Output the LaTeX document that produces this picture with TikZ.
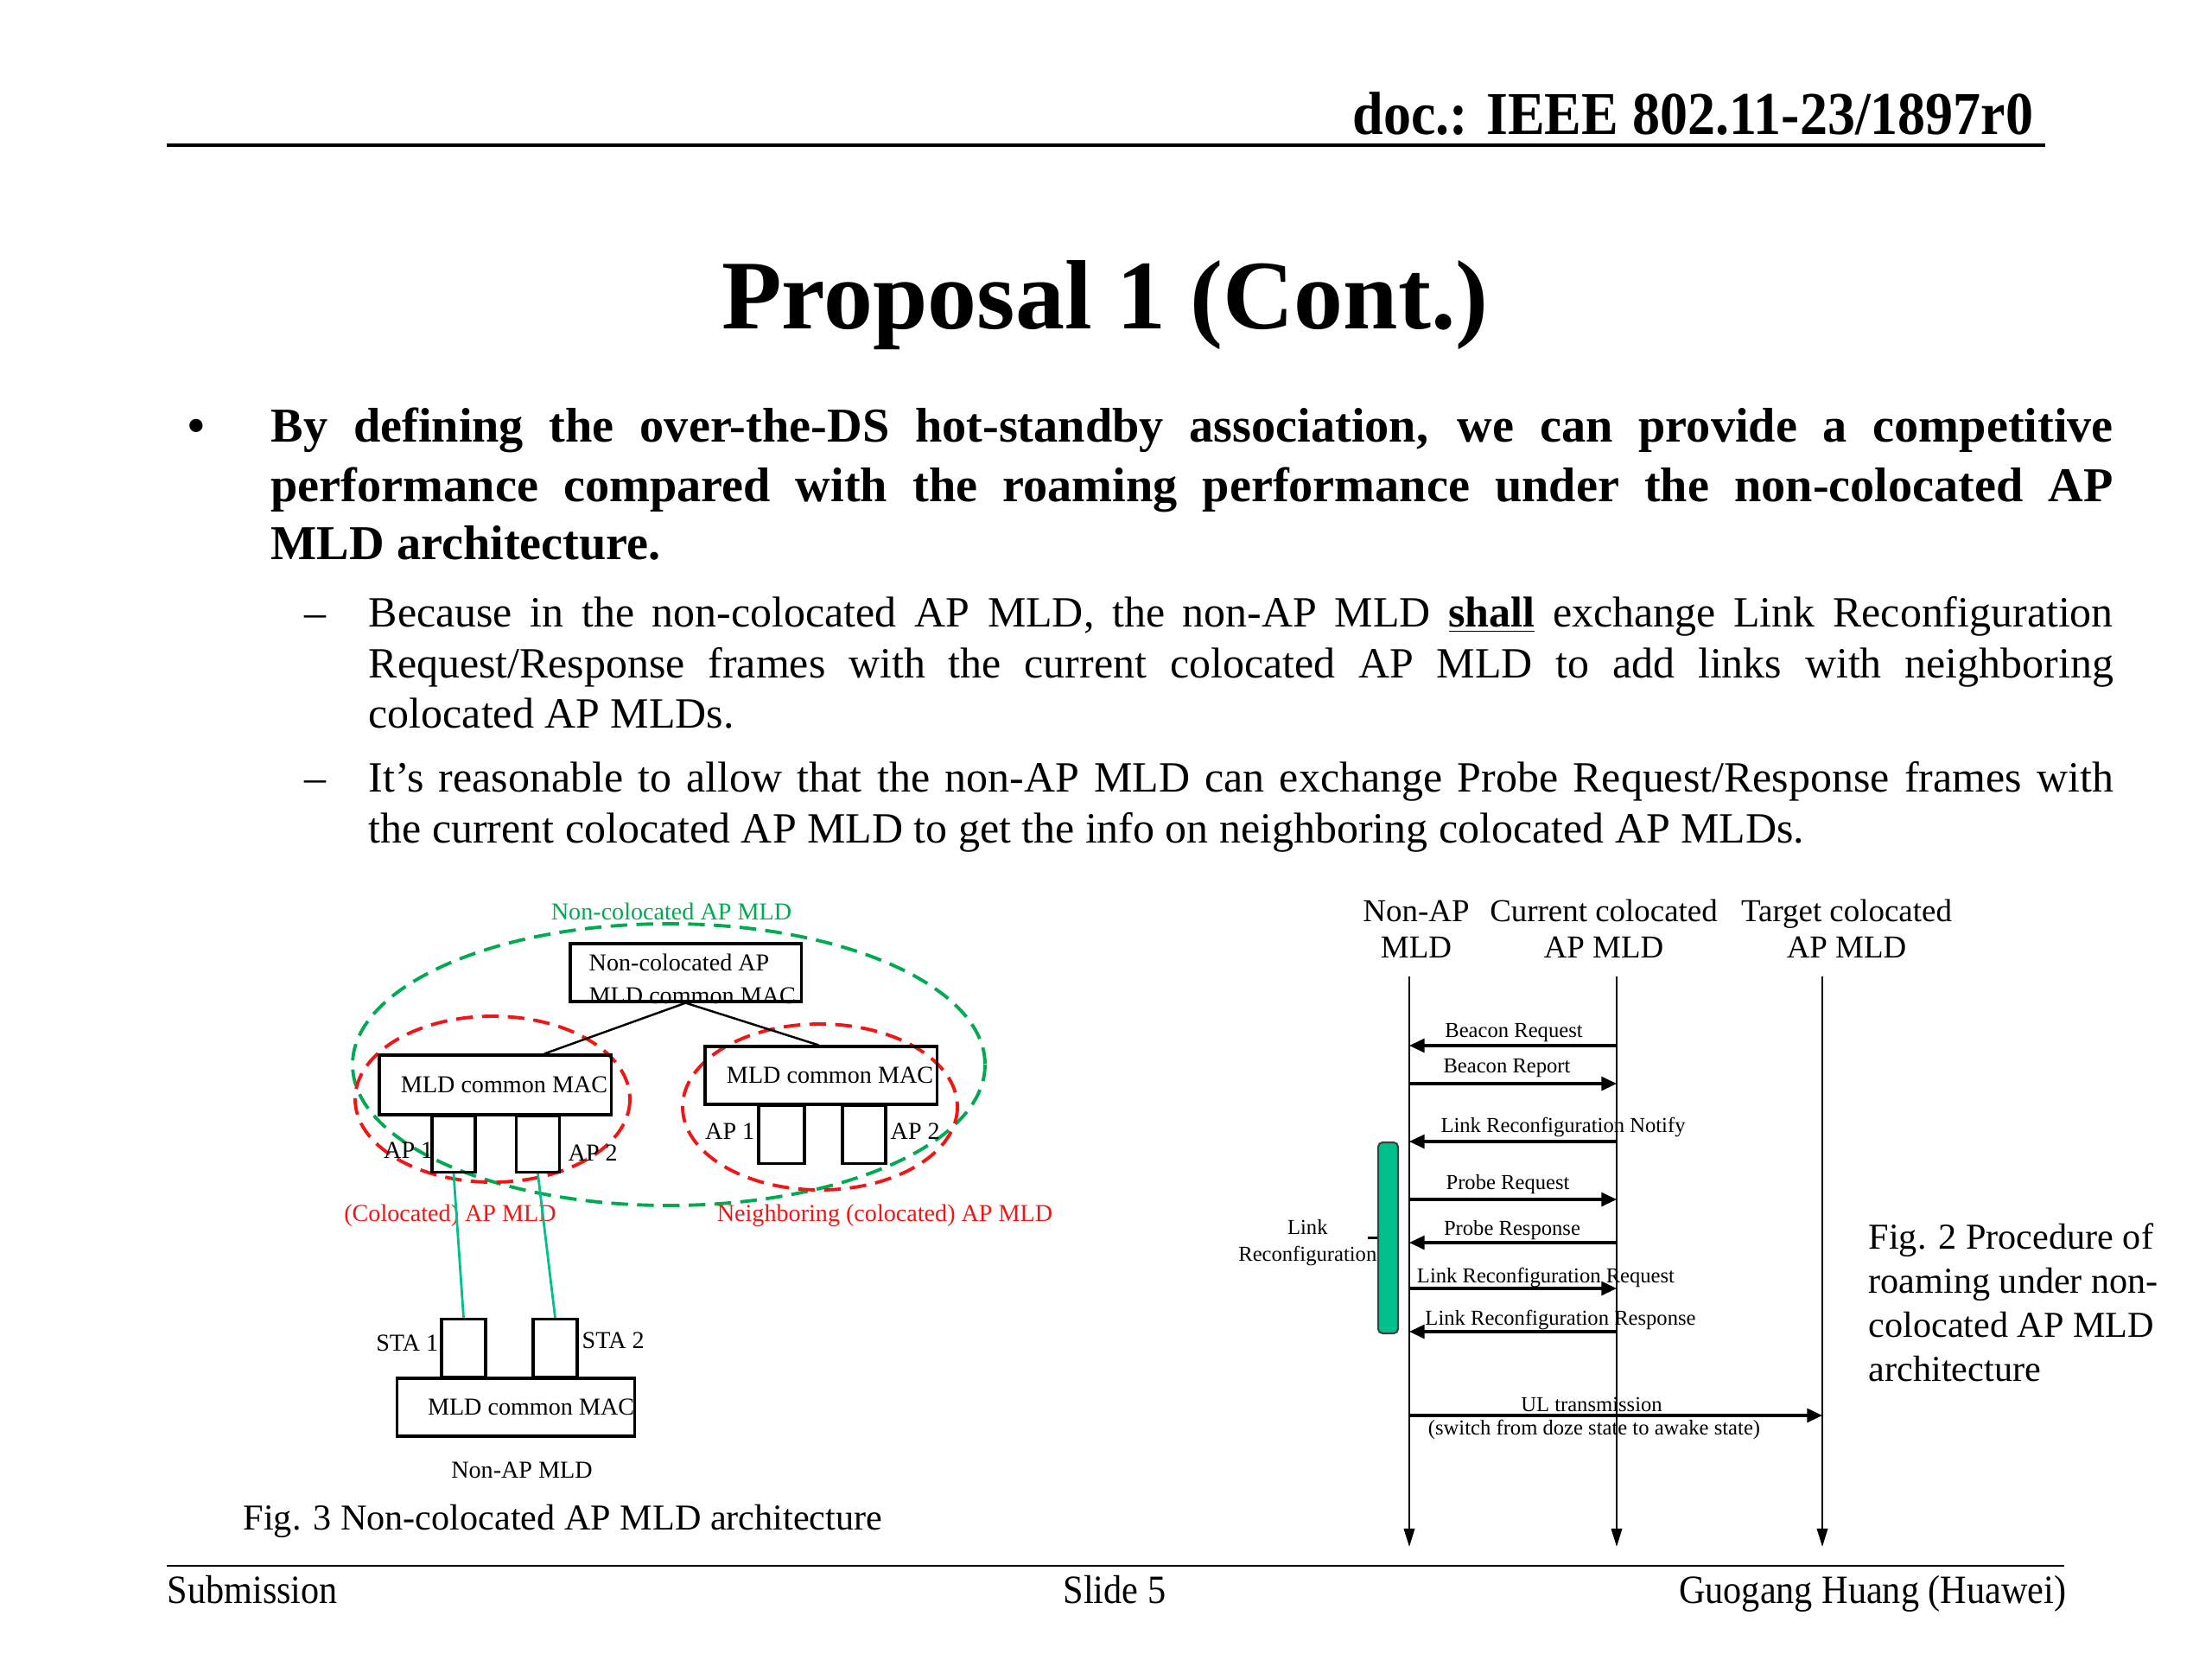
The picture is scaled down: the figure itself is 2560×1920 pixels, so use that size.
\documentclass[tikz,border=0pt]{standalone}
\usepackage{fontspec}
\setmainfont{Liberation Serif}
\newfontfamily\narrowfont{Liberation Serif}[FakeStretch=0.91]
\usetikzlibrary{positioning, calc, arrows.meta}

\definecolor{mldgreen}{RGB}{0,170,80}
\definecolor{mldred}{RGB}{245,20,20}
\definecolor{linkteal}{RGB}{0,192,140}
\newcommand{\fsz}[2]{\fontsize{#1}{#2}\selectfont}

\begin{document}
\begin{tikzpicture}[x=0.01cm, y=-0.01cm,
    box/.style={draw, line width=0.9pt, inner sep=0pt, font=\fsz{8}{9.5}},
    apbox/.style={draw, line width=0.9pt, inner sep=0pt, minimum width=0.5cm, minimum height=0.65cm},
    lbl/.style={font=\fsz{8}{9.5}, inner sep=0pt},
    zone/.style={dash pattern=on 5.5pt off 3pt, line width=1.1pt},
    lifeline/.style={line width=0.7pt, -{Triangle[length=6pt,width=3.5pt]}},
    msg/.style={line width=0.9pt, -{Triangle[length=5pt,width=4.5pt]}},
    msglbl/.style={font=\fsz{7}{8}, inner sep=0pt},
    hdr/.style={font=\fsz{10.5}{12}, align=center, inner sep=0pt},
    body/.style={anchor=base west, inner sep=0pt},
    foot/.style={inner sep=0pt, font=\narrowfont\fsz{13.2}{15}}
  ]
  \useasboundingbox (0,0) rectangle (2560,1920);

  % header and title
  \node[anchor=base east, inner sep=0pt, font=\narrowfont\fsz{20}{24}\bfseries] (docid) at (2354,155) {doc.: IEEE 802.11-23/1897r0};
  \draw[line width=1.4pt] (193,168) -- (2367,168);
  \node[anchor=base, inner sep=0pt, font=\fsz{32.4}{38}\bfseries] (title) at (1279,380) {Proposal 1 (Cont.)};

  % bullets
  \node[body, font=\fsz{16}{19}\bfseries] (dot) at (217,511) {•};
  \node[body, font=\fsz{16}{19}\bfseries] (b1) at (313,511) {\makebox[21.31cm][s]{By defining the over-the-DS hot-standby association, we can provide a competitive}};
  \node[body, font=\fsz{16}{19}\bfseries] (b2) at (313,580) {\makebox[21.31cm][s]{performance compared with the roaming performance under the non-colocated AP}};
  \node[body, font=\fsz{16}{19}\bfseries] (b3) at (313,647) {MLD architecture.};
  \node[body, font=\fsz{14.2}{17}] (dash1) at (352,725) {–};
  \node[body, font=\fsz{14.2}{17}] (s1a) at (426,725) {\makebox[20.18cm][s]{Because in the non-colocated AP MLD, the non-AP MLD \underline{\textbf{shall}} exchange Link Reconfiguration}};
  \node[body, font=\fsz{14.2}{17}] (s1b) at (426,784) {\makebox[20.18cm][s]{Request/Response frames with the current colocated AP MLD to add links with neighboring}};
  \node[body, font=\fsz{14.2}{17}] (s1c) at (426,842) {colocated AP MLDs.};
  \node[body, font=\fsz{14.2}{17}] (dash2) at (352,916) {–};
  \node[body, font=\fsz{14.2}{17}] (s2a) at (426,916) {\makebox[20.18cm][s]{It’s reasonable to allow that the non-AP MLD can exchange Probe Request/Response frames with}};
  \node[body, font=\fsz{14.2}{17}] (s2b) at (426,975) {the current colocated AP MLD to get the info on neighboring colocated AP MLDs.};

  % Fig. 3: non-colocated AP MLD
  \draw[zone, mldgreen] (774,1232) ellipse [x radius=366, y radius=163];
  \draw[zone, mldred] (570,1272) ellipse [x radius=159, y radius=96];
  \draw[zone, mldred] (949,1281) ellipse [x radius=159, y radius=96];
  \node[lbl, text=mldgreen] (ncname) at (777,1055) {Non-colocated AP MLD};

  \node[box, minimum width=2.67cm, minimum height=0.67cm] (topmac) at (793.5,1125.5) {};
  \node[lbl, align=left, anchor=west] (toptxt) at (681,1133) {Non-colocated AP\\[1.5pt]MLD common MAC};
  \node[box, minimum width=2.68cm, minimum height=0.69cm] (lmac) at (573,1255.5) {\hspace*{6pt}MLD common MAC};
  \node[box, minimum width=2.68cm, minimum height=0.67cm] (rmac) at (950,1244.5) {\hspace*{6pt}MLD common MAC};
  \draw[line width=0.7pt] (topmac.south) -- ($(lmac.north west)!0.71!(lmac.north east)$);
  \draw[line width=0.7pt] (topmac.south) -- ($(rmac.north west)!0.49!(rmac.north east)$);

  \node[apbox, anchor=north] (lap1) at (525,1290) {};
  \node[apbox, anchor=north] (lap2) at (622.5,1290) {};
  \node[apbox, anchor=north, minimum width=0.53cm, minimum height=0.67cm] (rap1) at (904.5,1278) {};
  \node[apbox, anchor=north, minimum height=0.67cm] (rap2) at (1000,1278) {};
  \node[lbl, anchor=east] (lap1txt) at (502,1331) {AP 1};
  \node[lbl, anchor=west] (lap2txt) at (657,1334) {AP 2};
  \node[lbl, anchor=east] (rap1txt) at (874,1309) {AP 1};
  \node[lbl, anchor=west] (rap2txt) at (1030,1309) {AP 2};
  \node[lbl, text=mldred] (colname) at (521,1407) {(Colocated) AP MLD};
  \node[lbl, text=mldred] (nbname) at (1024,1407) {Neighboring (colocated) AP MLD};

  \node[box, minimum width=2.66cm, minimum height=0.67cm] (nmac) at (597,1628.5) {\hspace*{10pt}MLD common MAC};
  \node[apbox, anchor=south, minimum width=0.51cm, minimum height=0.67cm] (sta1) at (536.5,1595) {};
  \node[apbox, anchor=south, minimum width=0.51cm, minimum height=0.67cm] (sta2) at (642.5,1595) {};
  \node[lbl, anchor=east] (sta1txt) at (508,1554) {STA 1};
  \node[lbl, anchor=west] (sta2txt) at (673,1551) {STA 2};
  \node[lbl] (nonap) at (604,1701) {Non-AP MLD};
  \draw[linkteal, line width=0.8pt] (lap1.south) -- (sta1.north);
  \draw[linkteal, line width=0.8pt] (lap2.south) -- (sta2.north);
  \node[anchor=base west, inner sep=0pt, font=\fsz{12}{14}] (fig3) at (281,1770) {Fig. 3 Non-colocated AP MLD architecture};

  % Fig. 2: roaming procedure
  \node[hdr] (hnap) at (1639,1075) {Non-AP\\MLD};
  \node[hdr] (hcur) at (1856,1075) {Current colocated\\AP MLD};
  \node[hdr] (htgt) at (2137,1075) {Target colocated\\AP MLD};
  \coordinate (nap) at (1631,1130);
  \coordinate (cur) at (1871,1130);
  \coordinate (tgt) at (2109,1130);
  \foreach \c in {nap, cur, tgt}
    \draw[lifeline] (\c) -- (\c |- 0,1790);

  \foreach \my/\lx/\ly/\from/\to/\txt in {
      1210/1752/1195/cur/nap/Beacon Request,
      1254/1744/1236/nap/cur/Beacon Report,
      1321/1809/1304/cur/nap/Link Reconfiguration Notify,
      1388/1745/1371/nap/cur/Probe Request,
      1438/1750/1424/cur/nap/Probe Response,
      1491/1789/1478/nap/cur/Link Reconfiguration Request,
      1541/1806/1527/cur/nap/Link Reconfiguration Response,
      1638/1842/1625/nap/tgt/UL transmission}{
    \coordinate (m\my) at (0,\my);
    \draw[msg] (\from |- m\my) -- (\to |- m\my);
    \node[msglbl] (t\my) at (\lx,\ly) {\txt};
  }
  \node[msglbl] (doze) at (1845,1654) {(switch from doze state to awake state)};

  \node[draw=black!75, fill=linkteal, line width=0.6pt, rounded corners=1.5pt, inner sep=0pt,
        minimum width=0.23cm, minimum height=2.21cm] (lrbar) at (1606.5,1432.5) {};
  \coordinate (tick) at ($(lrbar.west)+(-11,0)$);
  \draw[line width=0.8pt] (lrbar.west) -- (tick);
  \node[msglbl, align=center, anchor=east] (lrtxt) at (1594,1438) {Link\\[1pt]Reconfiguration};

  \node[anchor=west, align=left, inner sep=0pt, font=\fsz{12}{14.5}] (fig2) at (2162,1507)
    {Fig. 2 Procedure of\\roaming under non-\\colocated AP MLD\\architecture};

  % footer
  \draw[line width=0.7pt] (193,1812) -- (2389,1812);
  \node[foot, anchor=base west] (sub) at (193,1855) {Submission};
  \node[foot, anchor=base] (slide) at (1290,1855) {Slide 5};
  \node[foot, anchor=base east] (author) at (2392,1855) {Guogang Huang (Huawei)};
\end{tikzpicture}
\end{document}
